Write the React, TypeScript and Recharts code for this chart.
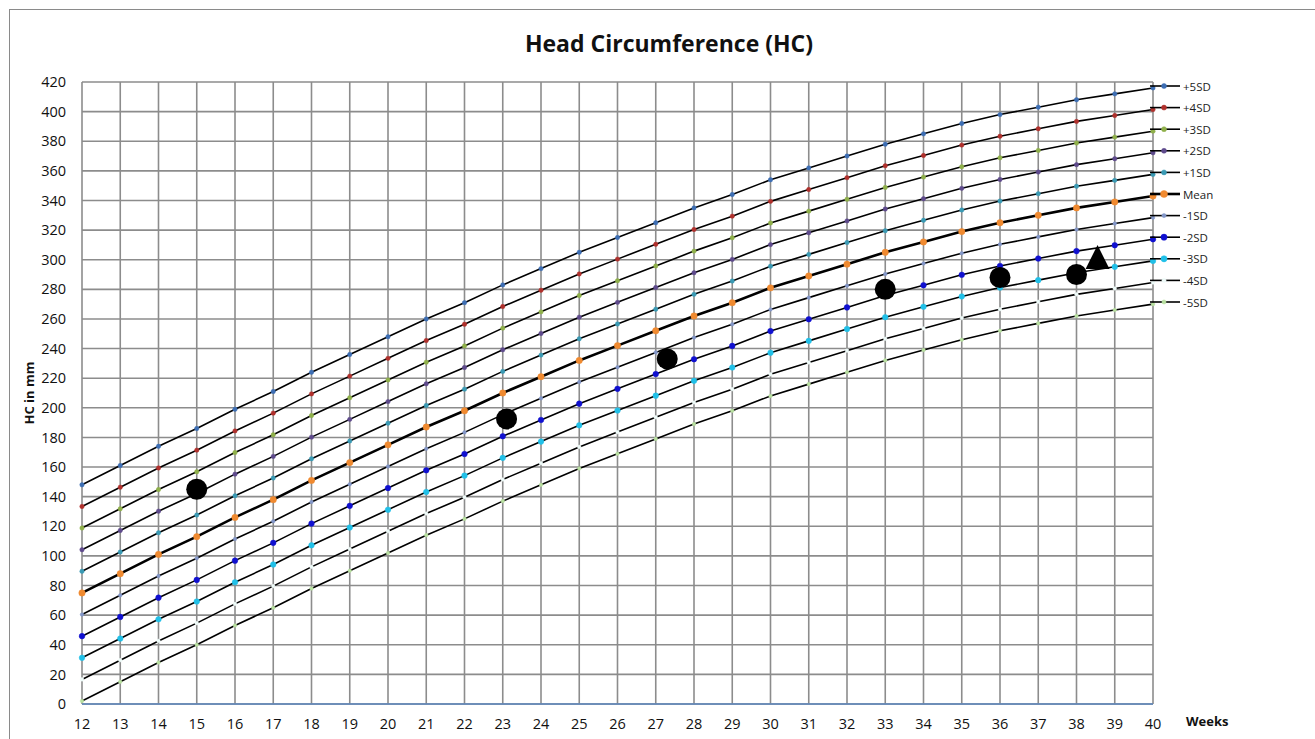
import React from "react";
import { ComposedChart, Line, Scatter, XAxis, YAxis, CartesianGrid } from "recharts";

const weeks = [12, 13, 14, 15, 16, 17, 18, 19, 20, 21, 22, 23, 24, 25, 26, 27, 28, 29, 30, 31, 32, 33, 34, 35, 36, 37, 38, 39, 40];

const plus5 = [148, 161, 174, 186, 199, 211, 224, 236, 248, 260, 271, 283, 294, 305, 315, 325, 335, 344, 354, 362, 370, 378, 385, 392, 398, 403, 408, 412, 416];
const plus4 = [133.4, 146.4, 159.4, 171.4, 184.4, 196.4, 209.4, 221.4, 233.4, 245.4, 256.4, 268.4, 279.4, 290.4, 300.4, 310.4, 320.4, 329.4, 339.4, 347.4, 355.4, 363.4, 370.4, 377.4, 383.4, 388.4, 393.4, 397.4, 401.4];
const plus3 = [118.8, 131.8, 144.8, 156.8, 169.8, 181.8, 194.8, 206.8, 218.8, 230.8, 241.8, 253.8, 264.8, 275.8, 285.8, 295.8, 305.8, 314.8, 324.8, 332.8, 340.8, 348.8, 355.8, 362.8, 368.8, 373.8, 378.8, 382.8, 386.8];
const plus2 = [104.2, 117.2, 130.2, 142.2, 155.2, 167.2, 180.2, 192.2, 204.2, 216.2, 227.2, 239.2, 250.2, 261.2, 271.2, 281.2, 291.2, 300.2, 310.2, 318.2, 326.2, 334.2, 341.2, 348.2, 354.2, 359.2, 364.2, 368.2, 372.2];
const plus1 = [89.6, 102.6, 115.6, 127.6, 140.6, 152.6, 165.6, 177.6, 189.6, 201.6, 212.6, 224.6, 235.6, 246.6, 256.6, 266.6, 276.6, 285.6, 295.6, 303.6, 311.6, 319.6, 326.6, 333.6, 339.6, 344.6, 349.6, 353.6, 357.6];
const mean = [75, 88, 101, 113, 126, 138, 151, 163, 175, 187, 198, 210, 221, 232, 242, 252, 262, 271, 281, 289, 297, 305, 312, 319, 325, 330, 335, 339, 343];
const minus1 = [60.4, 73.4, 86.4, 98.4, 111.4, 123.4, 136.4, 148.4, 160.4, 172.4, 183.4, 195.4, 206.4, 217.4, 227.4, 237.4, 247.4, 256.4, 266.4, 274.4, 282.4, 290.4, 297.4, 304.4, 310.4, 315.4, 320.4, 324.4, 328.4];
const minus2 = [45.8, 58.8, 71.8, 83.8, 96.8, 108.8, 121.8, 133.8, 145.8, 157.8, 168.8, 180.8, 191.8, 202.8, 212.8, 222.8, 232.8, 241.8, 251.8, 259.8, 267.8, 275.8, 282.8, 289.8, 295.8, 300.8, 305.8, 309.8, 313.8];
const minus3 = [31.2, 44.2, 57.2, 69.2, 82.2, 94.2, 107.2, 119.2, 131.2, 143.2, 154.2, 166.2, 177.2, 188.2, 198.2, 208.2, 218.2, 227.2, 237.2, 245.2, 253.2, 261.2, 268.2, 275.2, 281.2, 286.2, 291.2, 295.2, 299.2];
const minus4 = [16.6, 29.6, 42.6, 54.6, 67.6, 79.6, 92.6, 104.6, 116.6, 128.6, 139.6, 151.6, 162.6, 173.6, 183.6, 193.6, 203.6, 212.6, 222.6, 230.6, 238.6, 246.6, 253.6, 260.6, 266.6, 271.6, 276.6, 280.6, 284.6];
const minus5 = [2, 15, 28, 40, 53, 65, 78, 90, 102, 114, 125, 137, 148, 159, 169, 179, 189, 198, 208, 216, 224, 232, 239, 246, 252, 257, 262, 266, 270];

const measuredWeeks = [15, 23.1, 27.3, 33, 36, 38];
const measuredHC = [145, 192.5, 233, 280, 288, 290];
const triangleWeeks = [38.55];
const triangleHC = [301];

const yTicks = [0, 20, 40, 60, 80, 100, 120, 140, 160, 180, 200, 220, 240, 260, 280, 300, 320, 340, 360, 380, 400, 420];

const seriesList = [
  { key: "p5", name: "+5SD", values: plus5, color: "#3d6eb4", r: 2.2, w: 1.6 },
  { key: "p4", name: "+4SD", values: plus4, color: "#b0302c", r: 2.2, w: 1.6 },
  { key: "p3", name: "+3SD", values: plus3, color: "#8fb04a", r: 2.2, w: 1.6 },
  { key: "p2", name: "+2SD", values: plus2, color: "#5e4a8c", r: 2.2, w: 1.6 },
  { key: "p1", name: "+1SD", values: plus1, color: "#3a9ab4", r: 2.2, w: 1.6 },
  { key: "m0", name: "Mean", values: mean, color: "#f08a30", r: 3.2, w: 2.6 },
  { key: "n1", name: "-1SD", values: minus1, color: "#8296c8", r: 1.8, w: 1.6 },
  { key: "n2", name: "-2SD", values: minus2, color: "#1010d0", r: 2.8, w: 1.6 },
  { key: "n3", name: "-3SD", values: minus3, color: "#20c0e8", r: 2.8, w: 1.6 },
  { key: "n4", name: "-4SD", values: minus4, color: "#eefaf8", r: 1.8, w: 1.6 },
  { key: "n5", name: "-5SD", values: minus5, color: "#b8e0a0", r: 1.8, w: 1.6 },
];

const tableData = weeks.map((w, i) => {
  const row: any = { week: w };
  seriesList.forEach((s) => {
    row[s.key] = s.values[i];
  });
  return row;
});

const circleData = measuredWeeks.map((w, i) => ({ week: w, hc: measuredHC[i] }));
const triData = triangleWeeks.map((w, i) => ({ week: w, hc: triangleHC[i] }));

const FONT = "'Open Sans', 'Liberation Sans', sans-serif";

const CircleShape = (props: any) => {
  const { cx, cy } = props;
  if (cx == null || cy == null) return null;
  return <circle cx={cx} cy={cy} r={10.5} fill="#000" />;
};

const TriangleShape = (props: any) => {
  const { cx, cy } = props;
  if (cx == null || cy == null) return null;
  const h = 24;
  const half = 12;
  return (
    <polygon
      points={`${cx},${cy - h * 0.55} ${cx - half},${cy + h * 0.45} ${cx + half},${cy + h * 0.45}`}
      fill="#000"
    />
  );
};

const LegendOverlay = () => {
  const top = 86;
  const step = 21.6;
  return (
    <svg
      width={165}
      height={260}
      style={{ position: "absolute", left: 1150, top: 0, overflow: "visible" }}
    >
      {seriesList.map((s, i) => {
        const y = top + i * step;
        return (
          <g key={s.key}>
            <line x1={0} y1={y} x2={30} y2={y} stroke="#000" strokeWidth={s.w} />
            <circle cx={14} cy={y} r={s.r + 0.3} fill={s.color} stroke={s.color} strokeWidth={0.5} />
            <text
              x={33}
              y={y}
              dominantBaseline="central"
              fontFamily={FONT}
              fontSize={11.5}
              fill="#222"
            >
              {s.name}
            </text>
          </g>
        );
      })}
    </svg>
  );
};

export default function App() {
  return (
    <div
      style={{
        position: "absolute",
        left: 0,
        top: 0,
        width: 1315,
        height: 739,
        background: "#fff",
        overflow: "hidden",
        fontFamily: FONT,
      }}
    >
      <div
        style={{
          position: "absolute",
          left: 9,
          top: 9,
          width: 1400,
          height: 800,
          border: "1.5px solid #8a8a8a",
          boxSizing: "border-box",
        }}
      />
      <div
        style={{
          position: "absolute",
          left: 0,
          top: 27,
          width: 1338,
          textAlign: "center",
          fontWeight: 700,
          fontSize: 23,
          color: "#111",
          lineHeight: "32px",
        }}
      >
        Head Circumference (HC)
      </div>
      <div
        style={{
          position: "absolute",
          left: 29,
          top: 393,
          transform: "translate(-50%, -50%) rotate(-90deg)",
          fontWeight: 700,
          fontSize: 13,
          color: "#111",
          whiteSpace: "nowrap",
        }}
      >
        HC in mm
      </div>
      <div
        style={{
          position: "absolute",
          left: 1186,
          top: 712,
          fontWeight: 700,
          fontSize: 13,
          color: "#111",
        }}
      >
        Weeks
      </div>
      <div style={{ position: "absolute", left: 0, top: 0 }}>
        <ComposedChart
          width={1315}
          height={739}
          data={tableData}
          margin={{ top: 82, right: 162, bottom: 5, left: 22 }}
        >
          <CartesianGrid stroke="#8c8c8c" strokeWidth={1.6} />
          <XAxis
            dataKey="week"
            type="number"
            domain={[12, 40]}
            ticks={weeks}
            interval={0}
            axisLine={{ stroke: "#5b86be", strokeWidth: 1.6 }}
            tickLine={false}
            height={30}
            tick={{ fontSize: 14.5, fill: "#111", fontFamily: FONT }}
            tickMargin={9}
          />
          <YAxis
            type="number"
            domain={[0, 420]}
            ticks={yTicks}
            interval={0}
            axisLine={false}
            tickLine={false}
            width={60}
            tick={{ fontSize: 14.5, fill: "#111", fontFamily: FONT }}
            tickMargin={10}
          />
          {seriesList.map((s) => (
            <Line
              key={s.key}
              type="linear"
              dataKey={s.key}
              name={s.name}
              stroke="#000"
              strokeWidth={s.w}
              dot={{ r: s.r, fill: s.color, stroke: s.color, strokeWidth: 0.5 }}
              activeDot={false}
              isAnimationActive={false}
            />
          ))}
          <Scatter data={circleData} dataKey="hc" shape={CircleShape} isAnimationActive={false} />
          <Scatter data={triData} dataKey="hc" shape={TriangleShape} isAnimationActive={false} />
        </ComposedChart>
      </div>
      <LegendOverlay />
    </div>
  );
}
